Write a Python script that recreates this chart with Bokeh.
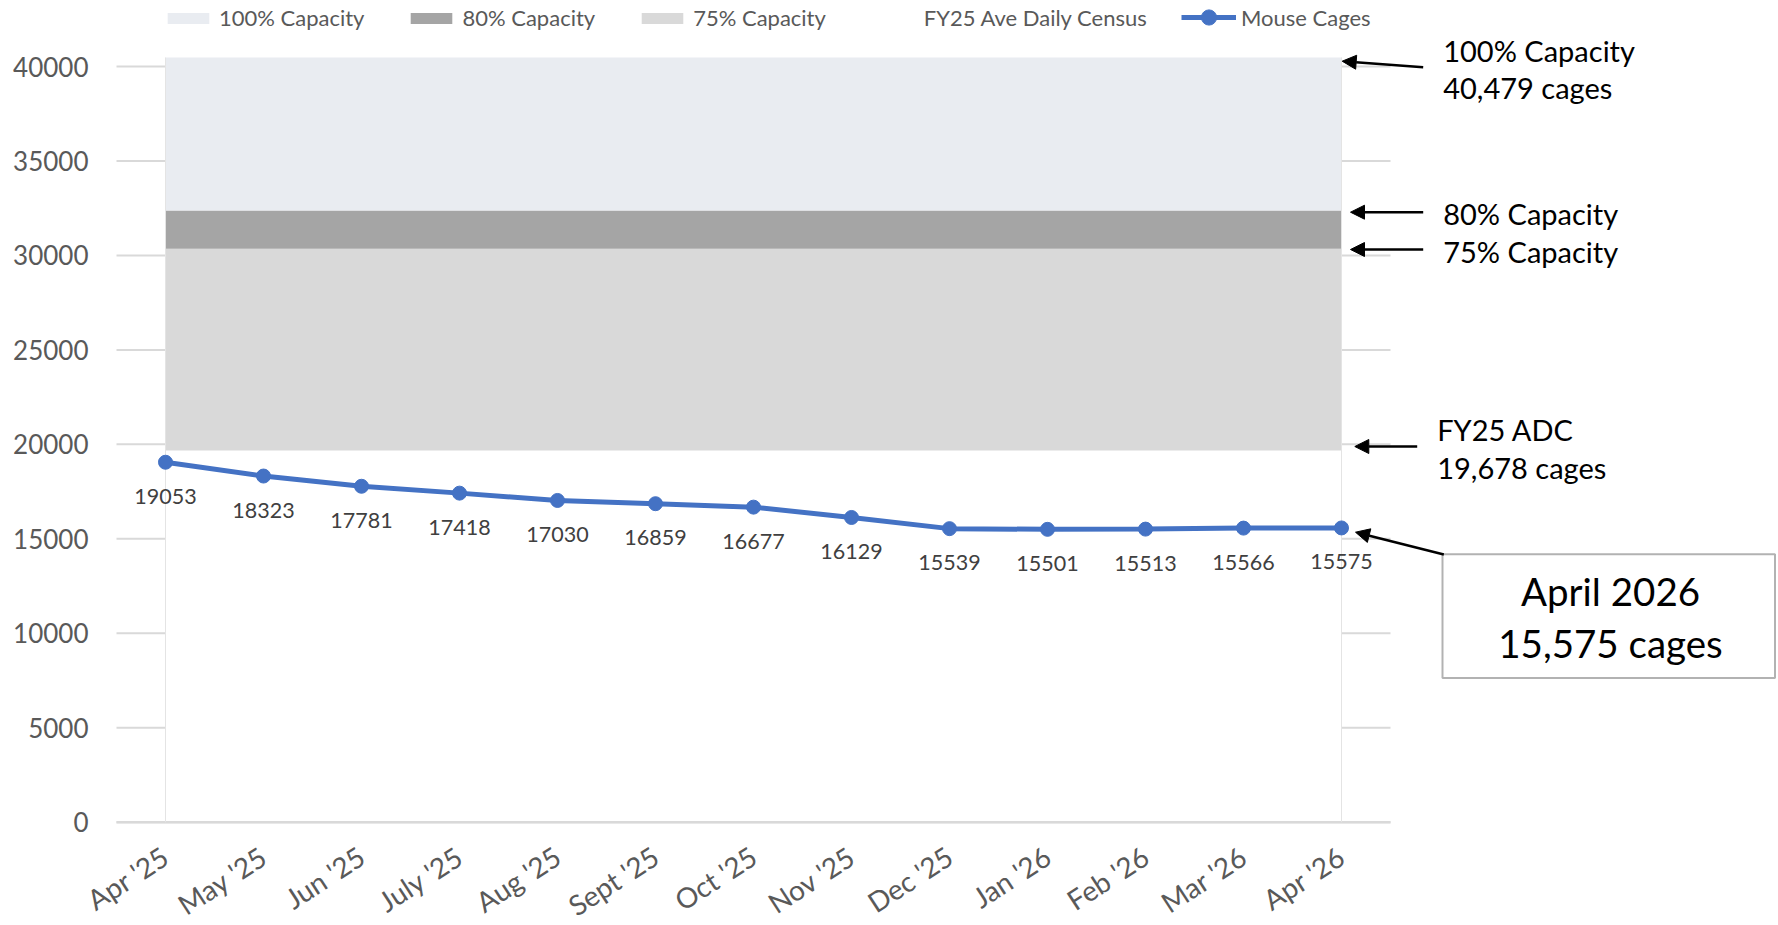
from bokeh.plotting import figure
from bokeh.models import (Range1d, FixedTicker, Legend, LegendItem, Label, Arrow,
                          NormalHead, BoxAnnotation, ColumnDataSource)
from bokeh.core.properties import value
from bokeh.embed import file_html
from bokeh.resources import INLINE
import math

# ---------------- data ----------------
months = ["Apr '25", "May '25", "Jun '25", "July '25", "Aug '25", "Sept '25", "Oct '25",
          "Nov '25", "Dec '25", "Jan '26", "Feb '26", "Mar '26", "Apr '26"]
mouse_cages = [19053, 18323, 17781, 17418, 17030, 16859, 16677, 16129, 15539, 15501,
               15513, 15566, 15575]
capacity_100 = 40479
capacity_80 = 32383
capacity_75 = 30359
fy25_adc = 19678
y_ticks = [0, 5000, 10000, 15000, 20000, 25000, 30000, 35000, 40000]

n = len(months)
idx = list(range(n))

# ---------------- geometry (figure origin at page top-left) ----------------
W, H = 1776, 923
PX_X = 98.0
PLOT_LEFT_SCREEN = 116.0
X_START = -0.5 - PLOT_LEFT_SCREEN / PX_X
X_END = X_START + W / PX_X
PX_Y = 755.7 / 40000.0
ZERO_SCREEN = 821.7
Y_END = ZERO_SCREEN / PX_Y
Y_START = -(H - ZERO_SCREEN) / PX_Y


def sx(px):
    return X_START + px / PX_X


def sy(py):
    return (ZERO_SCREEN - py) / PX_Y


FONT = "Lato"

p = figure(width=W, height=H, output_backend="svg", toolbar_location=None,
           x_range=Range1d(X_START, X_END), y_range=Range1d(Y_START, Y_END),
           min_border_left=0, min_border_right=0, min_border_top=0, min_border_bottom=0)
p.outline_line_color = None
p.xgrid.grid_line_color = None
p.ygrid.grid_line_color = None
p.background_fill_color = "white"

# gridlines limited to the plot area
gx0 = [idx[0] - 0.5] * len(y_ticks)
gx1 = [idx[-1] + 0.5] * len(y_ticks)
p.segment(x0=gx0, y0=y_ticks, x1=gx1, y1=y_ticks, line_color="#D9D9D9", line_width=2)

# stacked capacity areas
adc = [fy25_adc] * n
c75 = [capacity_75] * n
c80 = [capacity_80] * n
c100 = [capacity_100] * n
zeros = [0] * n
r_adc = p.varea(x=idx, y1=zeros, y2=adc, fill_color="white")
r75 = p.varea(x=idx, y1=adc, y2=c75, fill_color="#D9D9D9")
r80 = p.varea(x=idx, y1=c75, y2=c80, fill_color="#A5A5A5")
r100 = p.varea(x=idx, y1=c80, y2=c100, fill_color="#E9ECF1")

# zero line and faint verticals at the ends
p.segment(x0=[idx[0] - 0.5], y0=[0], x1=[idx[-1] + 0.5], y1=[0], line_color="#D9D9D9", line_width=2.5)
p.segment(x0=[idx[0], idx[-1]], y0=[0, 0], x1=[idx[0], idx[-1]], y1=[capacity_100, capacity_100],
          line_color="#E4E4E4", line_width=1)

# mouse cages line
src = ColumnDataSource(dict(x=idx, y=mouse_cages, lab=[str(v) for v in mouse_cages]))
rl = p.line("x", "y", source=src, line_color="#4472C4", line_width=5)
rs = p.scatter("x", "y", source=src, size=14, fill_color="#4472C4", line_color="#4472C4")
p.text("x", "y", text="lab", source=src, text_align="center", text_baseline="middle",
       y_offset=34, text_font=value(FONT), text_font_size=value("21.5px"), text_color="#404040")

# axes
p.yaxis.fixed_location = idx[0] - 0.5
p.yaxis.ticker = FixedTicker(ticks=y_ticks)
p.yaxis.axis_line_color = None
p.yaxis.major_tick_line_color = None
p.yaxis.minor_tick_line_color = None
p.yaxis.major_tick_out = 0
p.yaxis.major_tick_in = 0
p.yaxis.major_label_standoff = 28
p.yaxis.major_label_text_font = FONT
p.yaxis.major_label_text_font_size = "26px"
p.yaxis.major_label_text_color = "#595959"

p.xaxis.fixed_location = 0
p.xaxis.ticker = FixedTicker(ticks=idx)
p.xaxis.major_label_overrides = {i: m for i, m in zip(idx, months)}
p.xaxis.axis_line_color = None
p.xaxis.major_tick_line_color = None
p.xaxis.minor_tick_line_color = None
p.xaxis.major_tick_out = 0
p.xaxis.major_tick_in = 0
p.xaxis.major_label_orientation = math.radians(33)
p.xaxis.major_label_standoff = 31
p.xaxis.major_label_text_font = FONT
p.xaxis.major_label_text_font_size = "28px"
p.xaxis.major_label_text_color = "#595959"

# legends
leg_a = Legend(items=[LegendItem(label="100% Capacity", renderers=[r100]),
                      LegendItem(label="80% Capacity", renderers=[r80]),
                      LegendItem(label="75% Capacity", renderers=[r75]),
                      LegendItem(label="FY25 Ave Daily Census", renderers=[r_adc])],
               orientation="horizontal", location=(162, H - 31), padding=0, margin=0,
               glyph_width=52, glyph_height=14, label_standoff=5, spacing=41,
               label_text_font=FONT, label_text_font_size="22px", label_text_color="#595959",
               background_fill_alpha=0, border_line_alpha=0)
leg_b = Legend(items=[LegendItem(label="Mouse Cages", renderers=[rl, rs])],
               orientation="horizontal", location=(1181, H - 36), padding=0, margin=0,
               glyph_width=55, glyph_height=38, label_standoff=5,
               label_text_font=FONT, label_text_font_size="22px", label_text_color="#595959",
               background_fill_alpha=0, border_line_alpha=0)
p.add_layout(leg_a)
p.add_layout(leg_b)


# right-hand annotations
def lab(x, baseline, t, size=29.0, align="left"):
    p.add_layout(Label(x=sx(x), y=sy(baseline - 0.32 * size), text=t, text_font=FONT,
                       text_font_size=f"{size}px", text_color="black", text_align=align,
                       text_baseline="alphabetic"))


lab(1442.7, 59, "100% Capacity")
lab(1442.7, 96.5, f"{capacity_100:,} cages")
lab(1442.7, 222.7, "80% Capacity")
lab(1442.7, 260, "75% Capacity")
lab(1436.7, 438, "FY25 ADC")
lab(1436.7, 476, f"{fy25_adc:,} cages")

p.add_layout(BoxAnnotation(left=sx(1442), right=sx(W - 1.5), top=sy(553.7), bottom=sy(677.5),
                           fill_color=None, fill_alpha=0, line_color="black", line_width=2))
lab(1610, 603, "April 2026", size=38.5, align="center")
lab(1610, 655, f"{mouse_cages[-1]:,} cages", size=38.5, align="center")

for (x0, y0, x1, y1) in [(1422.7, 66.7, 1341.7, 60.7), (1422.7, 211.7, 1350, 211.7),
                         (1422.7, 249, 1350, 249), (1416.7, 446, 1354.3, 446),
                         (1443.3, 554, 1355, 531.7)]:
    p.add_layout(Arrow(end=NormalHead(size=14, fill_color="black", line_color="black"),
                       x_start=sx(x0), y_start=sy(y0), x_end=sx(x1), y_end=sy(y1),
                       line_color="black", line_width=2.5))

open("out.html", "w").write(file_html(p, INLINE))
